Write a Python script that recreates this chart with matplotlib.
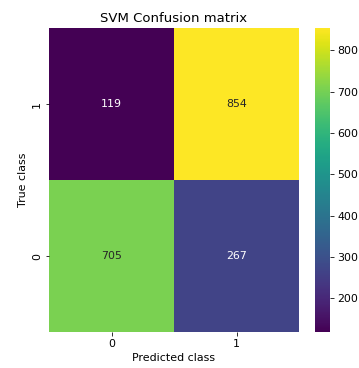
import matplotlib
matplotlib.use('Agg')
import matplotlib.pyplot as plt
import seaborn as sns
import numpy as np

# confusion matrix, rows shown top-to-bottom as true class 1, 0
row_labels = ['1', '0']
col_labels = ['0', '1']
row_1 = [119, 854]
row_0 = [705, 267]

cm = np.array([row_1, row_0])

plt.rcParams['font.size'] = 11

fig = plt.figure(figsize=(359/72., 368/72.), dpi=72)
ax = fig.add_axes([49/359., 36/368., 250/359., 304/368.])
cax = fig.add_axes([315/359., 36/368., 15/359., 304/368.])

sns.heatmap(cm, annot=True, fmt='d', cmap='viridis', ax=ax, cbar_ax=cax,
            xticklabels=col_labels, yticklabels=row_labels,
            annot_kws={'size': 11})
ax.set_title('SVM Confusion matrix', fontsize=13.3)
ax.set_xlabel('Predicted class')
ax.set_ylabel('True class')
ax.set_yticklabels(row_labels, rotation=90, va='center')
cax.set_yticks([200, 300, 400, 500, 600, 700, 800])

fig.savefig('out.png', dpi=72)
